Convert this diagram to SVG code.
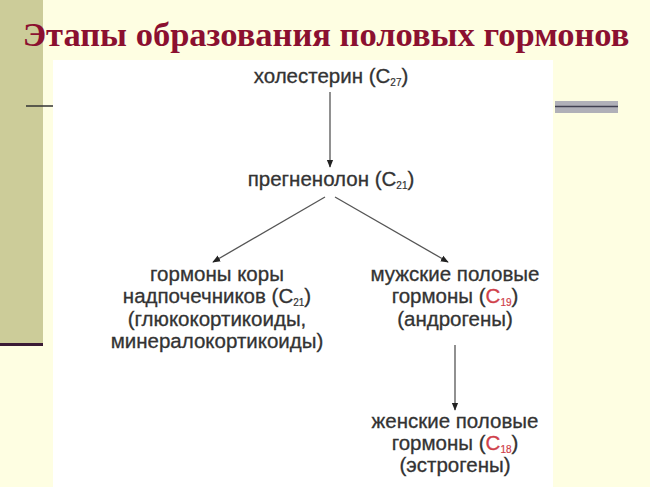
<svg xmlns="http://www.w3.org/2000/svg" width="650" height="487" viewBox="0 0 650 487">
<defs>
<style>
.t{font-family:"Liberation Sans",Arial,sans-serif;font-size:20.5px;fill:#333;stroke:#333;stroke-width:0.3;text-anchor:middle}
.r{fill:#d0404a;stroke:#d0404a}
.s{font-size:10px;stroke-width:0.2}
.c{stroke:#555;stroke-width:1.3;fill:none;marker-end:url(#a)}
</style>
<marker id="a" viewBox="0 0 10 10" refX="9" refY="5" markerWidth="8" markerHeight="8" orient="auto" markerUnits="userSpaceOnUse"><path d="M0,1 L10,5 L0,9 z" fill="#222"/></marker>
</defs>
<rect width="650" height="487" fill="#fefee2"/>
<rect x="0" y="0" width="43" height="346" fill="#cccc99"/>
<rect x="0" y="343" width="43" height="3" fill="#3a1a35"/>
<line x1="26" y1="106" x2="53" y2="106" stroke="#333" stroke-width="1.5"/>
<rect x="555" y="101" width="63" height="12" fill="#b0b0b8"/>
<line x1="555" y1="106.5" x2="618" y2="106.5" stroke="#404050" stroke-width="1.5"/>
<rect x="53" y="60" width="500" height="427" fill="#ffffff"/>
<text x="326" y="46" font-family="Liberation Serif,'Times New Roman',serif" font-weight="bold" font-size="34.5" fill="#8b1030" text-anchor="middle">Этапы образования половых гормонов</text>
<g id="connectors">
<line class="c" x1="330" y1="92" x2="330" y2="167"/>
<line class="c" x1="325" y1="197" x2="213" y2="262"/>
<line class="c" x1="335" y1="197" x2="448" y2="262"/>
<line class="c" x1="455" y1="345" x2="455" y2="410"/>
</g>
<g id="n1"><text class="t" x="331" y="83">холестерин (C<tspan class="s" dy="3">27</tspan><tspan dy="-3">)</tspan></text></g>
<g id="n2"><text class="t" x="331" y="186">прегненолон (C<tspan class="s" dy="3">21</tspan><tspan dy="-3">)</tspan></text></g>
<g id="n3">
<text class="t" x="217" y="281">гормоны коры</text>
<text class="t" x="217" y="303">надпочечников (C<tspan class="s" dy="3">21</tspan><tspan dy="-3">)</tspan></text>
<text class="t" x="217" y="326">(глюкокортикоиды,</text>
<text class="t" x="217" y="348">минералокортикоиды)</text>
</g>
<g id="n4">
<text class="t" x="455" y="281">мужские половые</text>
<text class="t" x="455" y="303">гормоны (<tspan class="r">C<tspan class="s" dy="3">19</tspan></tspan><tspan dy="-3">)</tspan></text>
<text class="t" x="455" y="326">(андрогены)</text>
</g>
<g id="n5">
<text class="t" x="455" y="428">женские половые</text>
<text class="t" x="455" y="450">гормоны (<tspan class="r">C<tspan class="s" dy="3">18</tspan></tspan><tspan dy="-3">)</tspan></text>
<text class="t" x="455" y="472">(эстрогены)</text>
</g>
</svg>
